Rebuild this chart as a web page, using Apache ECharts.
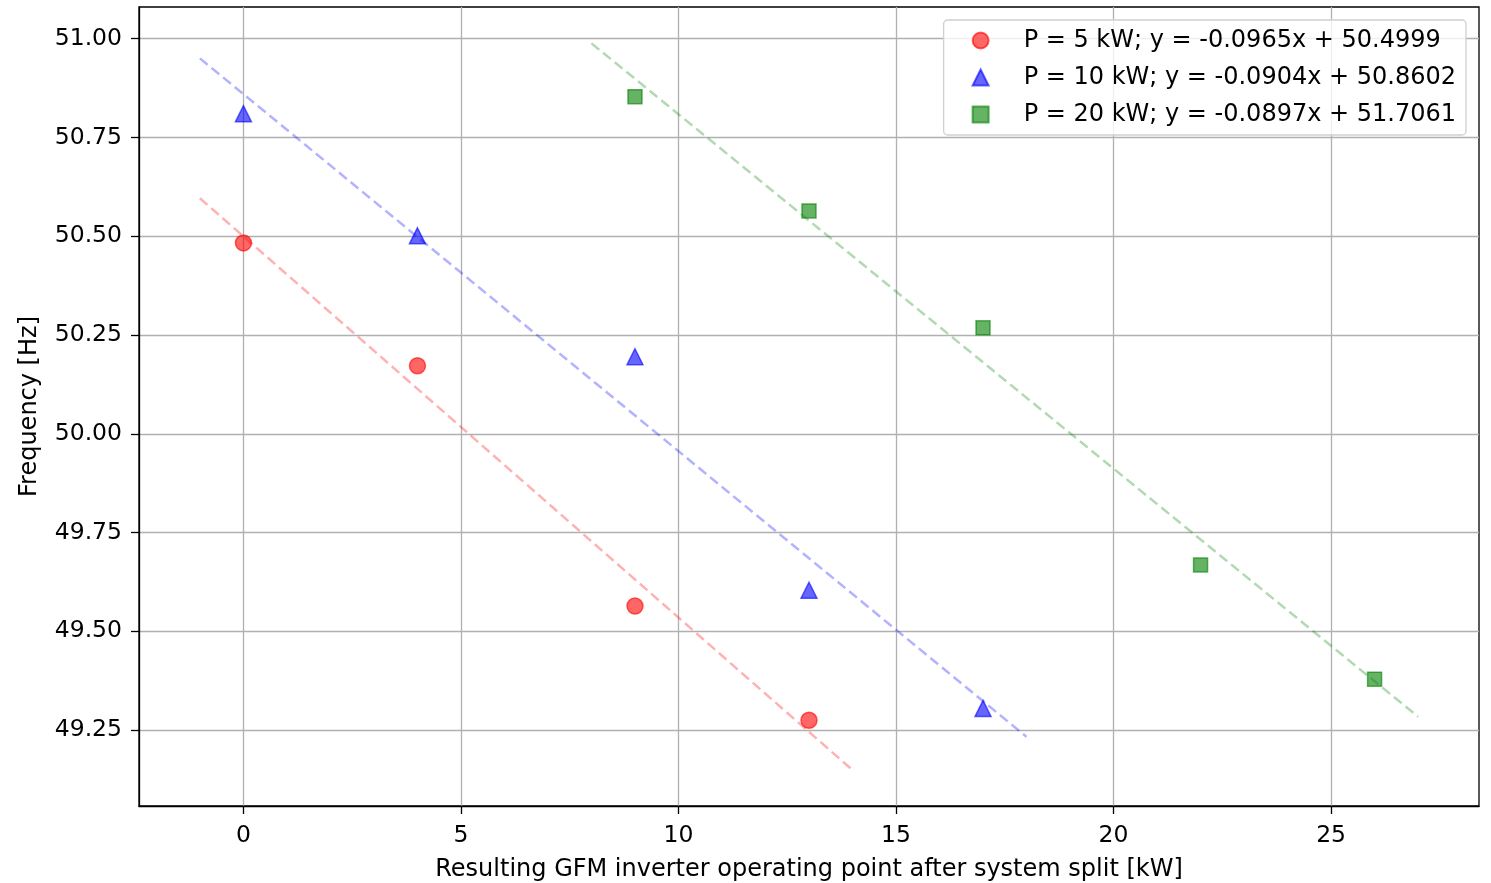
<!DOCTYPE html>
<html>
<head>
<meta charset="utf-8">
<script src="https://cdn.jsdelivr.net/npm/echarts@6/dist/echarts.min.js"></script>
<style>
html,body{margin:0;padding:0;background:#fff;overflow:hidden;}
#chart{width:1491px;height:883px;}
</style>
</head>
<body>
<div id="chart"></div>
<script>
// Tick labels
const xTicks = [0, 5, 10, 15, 20, 25];
const yTicks = [49.25, 49.5, 49.75, 50.0, 50.25, 50.5, 50.75, 51.0];

// Series names
const seriesNames = [
  'P = 5 kW; y = -0.0965x + 50.4999',
  'P = 10 kW; y = -0.0904x + 50.8602',
  'P = 20 kW; y = -0.0897x + 51.7061'
];

// Measured points
const x5 = [0, 4, 9, 13];
const y5 = [50.483, 50.172, 49.564, 49.275];
const x10 = [0, 4, 9, 13, 17];
const y10 = [50.81, 50.501, 50.195, 49.604, 49.305];
const x20 = [9, 13, 17, 22, 26];
const y20 = [50.853, 50.564, 50.268, 49.668, 49.379];

// Fit line endpoints (x, y)
const fit5X = [-1, 14];
const fit5Y = [50.596, 49.149];
const fit10X = [-1, 18];
const fit10Y = [50.950, 49.233];
const fit20X = [8, 27];
const fit20Y = [50.988, 49.284];

const zip = (a, b) => a.map((v, i) => [v, b[i]]);

const FONT = 'DejaVu Sans';
const FS = 24;
const FS_TICK = 23.5;

const chart = echarts.init(document.getElementById('chart'), null, {renderer: 'canvas'});

function scatter(name, xs, ys, symbol, size, color, edge) {
  return {
    type: 'scatter',
    name: name,
    data: zip(xs, ys),
    symbol: symbol,
    symbolSize: size,
    z: 5,
    itemStyle: {color: color, opacity: 0.6, borderColor: edge, borderWidth: 1.5},
    emphasis: {disabled: true}
  };
}
function fitLine(xs, ys, color) {
  return {
    type: 'line',
    data: zip(xs, ys),
    showSymbol: false,
    symbol: 'none',
    z: 3,
    lineStyle: {color: color, width: 2.5, type: [10, 5], opacity: 0.3},
    emphasis: {disabled: true},
    silent: true
  };
}

chart.setOption({
  animation: false,
  backgroundColor: '#fff',
  grid: {left: 139, right: 12, top: 7, bottom: 77, containLabel: false, outerBoundsMode: 'none',
         show: true, borderColor: '#000', borderWidth: 1.3, backgroundColor: 'transparent'},
  legend: {
    orient: 'vertical',
    right: 25,
    top: 20,
    data: seriesNames,
    itemWidth: 16,
    itemHeight: 16,
    itemGap: 10,
    padding: [7, 10, 7, 28],
    backgroundColor: 'rgba(255,255,255,0.8)',
    borderColor: '#d0d0d0',
    borderWidth: 1.3,
    borderRadius: 4,
    textStyle: {fontFamily: FONT, fontSize: FS, color: '#000', lineHeight: 27, padding: [0, 0, 0, 30]}
  },
  xAxis: {
    type: 'value',
    min: -2.4,
    max: 28.4,
    name: 'Resulting GFM inverter operating point after system split [kW]',
    nameLocation: 'middle',
    nameGap: 52,
    nameTextStyle: {fontFamily: FONT, fontSize: FS, color: '#000'},
    axisLine: {show: true, onZero: false, lineStyle: {color: '#000', width: 1.3}},
    axisTick: {show: true, length: 8, inside: false, lineStyle: {color: '#000', width: 1.3}, customValues: xTicks},
    axisLabel: {fontFamily: FONT, fontSize: FS_TICK, color: '#000', margin: 18, customValues: xTicks, formatter: v => String(v)},
    splitLine: {show: true, lineStyle: {color: '#b0b0b0', width: 1.3}}
  },
  yAxis: {
    type: 'value',
    min: 49.058,
    max: 51.080,
    name: 'Frequency [Hz]',
    nameLocation: 'middle',
    nameGap: 97,
    nameTextStyle: {fontFamily: FONT, fontSize: FS, color: '#000'},
    axisLine: {show: true, onZero: false, lineStyle: {color: '#000', width: 1.3}},
    axisTick: {show: true, length: 8, inside: false, lineStyle: {color: '#000', width: 1.3}, customValues: yTicks},
    axisLabel: {fontFamily: FONT, fontSize: FS_TICK, color: '#000', margin: 17, padding: [4, 0, 0, 0], customValues: yTicks, formatter: v => v.toFixed(2)},
    splitLine: {show: true, lineStyle: {color: '#b0b0b0', width: 1.3}}
  },
  series: [
    fitLine(fit5X, fit5Y, 'red'),
    fitLine(fit10X, fit10Y, 'blue'),
    fitLine(fit20X, fit20Y, 'green'),
    scatter(seriesNames[0], x5, y5, 'circle', 16, 'red', 'red'),
    scatter(seriesNames[1], x10, y10, 'triangle', 16, 'blue', 'blue'),
    scatter(seriesNames[2], x20, y20, 'rect', 14, 'green', 'green')
  ]
});
</script>
</body>
</html>
